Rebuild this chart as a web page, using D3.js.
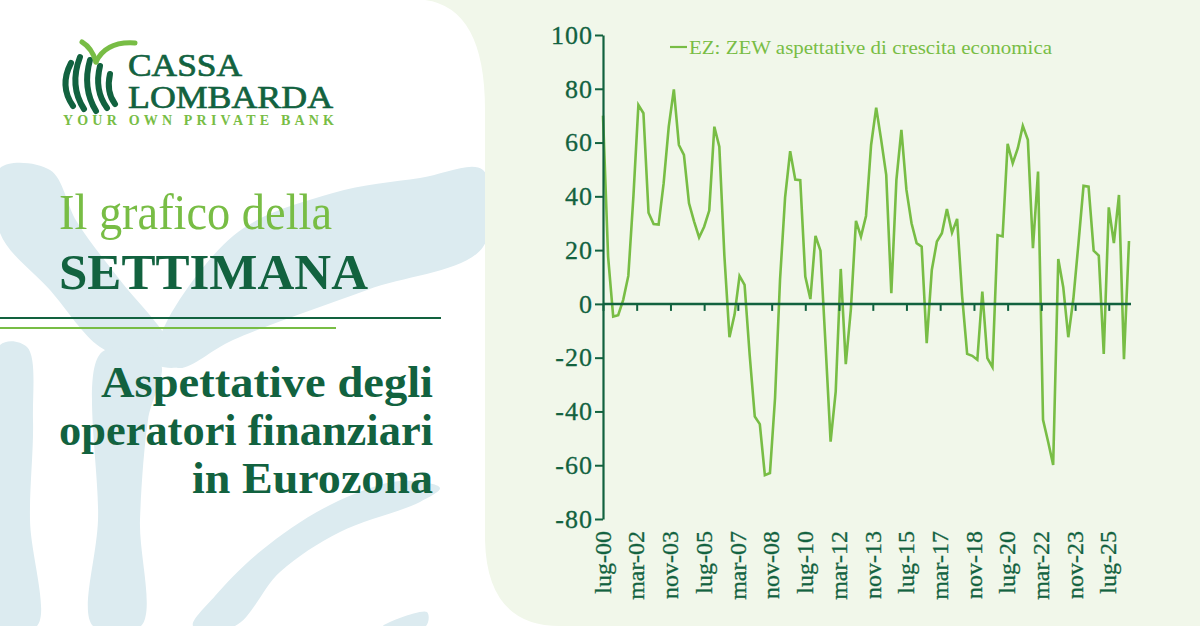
<!DOCTYPE html>
<html>
<head>
<meta charset="utf-8">
<script src="https://cdn.jsdelivr.net/npm/d3@7"></script>
<style>
    html, body { margin: 0; padding: 0; background: #ffffff; }
    svg { display: block; font-family: "Liberation Serif", "DejaVu Serif", serif; }
</style>
</head>
<body>
<svg id="chart" width="1200" height="626"></svg>
<script>
"use strict";

// ---- dati ----
const start_date = new Date(2000, 6, 1);  // lug-00, poi un punto a trimestre
const zew_values = [
    70, 17.6,
    -4.7, -4.2, 1.5, 10.4,
    40, 74, 70.9, 33.9,
    29.7, 29.5, 44.9, 65.9,
    79.8, 59.1, 55.4, 37.4,
    30.6, 24.7, 28.7, 34.7,
    65.9, 58.5, 18, -12.4,
    -4, 10.4, 7.1, -19,
    -41.9, -44.7, -63.7, -62.9,
    -35, 9, 39.5, 56.8,
    46.2, 46, 10.2, 1.8,
    25.3, 19.8, -15, -51.2,
    -32.6, 13, -22.4, -2,
    30.9, 25, 32.7, 59.1,
    73, 61, 48, 4,
    46.1, 64.7, 42.4, 30,
    22.6, 21.3, -14.6, 12.6,
    23.2, 26.3, 35.3, 26.5,
    31.6, 3, -18.6, -19.3,
    -20.8, 4.6, -20.2, -23.5,
    25.6, 25.1, 59.5, 52.3,
    57.9, 66.2, 61, 20.7,
    49.2, -43.1, -51.2, -59.9,
    16.7, 6.2, -12.4, 2,
    22.6, 43.9, 43.6, 19.8,
    18, -18.6, 35.9, 22.6,
    40.5, -20.6, 23.4
];
const y_ticks = [100, 80, 60, 40, 20, 0, -20, -40, -60, -80];
const x_tick_labels = ["lug-00", "mar-02", "nov-03", "lug-05", "mar-07", "nov-08", "lug-10", "mar-12",
                       "nov-13", "lug-15", "mar-17", "nov-18", "lug-20", "mar-22", "nov-23", "lug-25"];
const legend_label = "EZ: ZEW aspettative di crescita economica";
const title_lines = ["Aspettative degli", "operatori finanziari", "in Eurozona"];

// ---- colori ----
const dark_green = "#12623f";
const light_green = "#78bd45";
const brush_blue = "#dcebf0";
const panel_green = "#f1f7ea";

const svg = d3.select("#chart");

// ---- sfondo ----
svg.append("rect").attr("width", 1200).attr("height", 626).attr("fill", "#ffffff");

// pennellate azzurre (a mano, solo decorazione)
const brushes = [
    // braccio sinistro della V
    [[0,168],[50,170],[77,222],[120,280],[167,338],[178,366],[140,362],[100,347],[50,290],[0,233]],
    // braccio destro della V
    [[483,170],[483,247],[367,290],[233,340],[178,368],[158,350],[233,236],[333,193],[420,178]],
    // gambo
    [[102,352],[160,362],[148,420],[140,520],[141,626],[93,626],[98,520]],
    // striscia a bordo sinistro
    [[0,345],[27,347],[33,420],[30,520],[37,626],[0,626]],
    // pennellata in basso
    [[193,626],[235,626],[280,572],[340,532],[420,502],[440,488],[400,481],[330,505],[262,550],[215,596]],
    [[383,626],[427,612],[426,626]]
];
svg.append("g")
    .selectAll("path")
    .data(brushes)
    .join("path")
    .attr("d", (d) => d3.line().curve(d3.curveCatmullRomClosed)(d))
    .attr("fill", brush_blue);

// pannello del grafico
svg.append("path")
    .attr("d", "M425,0 Q485,8 485,110 L485,540 Q487,626 560,626 L1200,626 L1200,0 Z")
    .attr("fill", panel_green);

// ---- logo ----
const logo = svg.append("g");
[
    "M71,63 Q59,86 73,106",
    "M80,57 Q69,86 84,109",
    "M90,60 Q82,88 96,111",
    "M100,66 Q94,90 107,108",
    "M110,74 Q106,92 115,104"
].forEach((p) => {
    logo.append("path").attr("d", p).attr("fill", "none")
        .attr("stroke", dark_green).attr("stroke-width", 6).attr("stroke-linecap", "round");
});
logo.append("path").attr("d", "M82,42 Q92,48 96,62").attr("fill", "none")
    .attr("stroke", light_green).attr("stroke-width", 5).attr("stroke-linecap", "round");
logo.append("path").attr("d", "M96,62 Q106,41 135,43").attr("fill", "none")
    .attr("stroke", light_green).attr("stroke-width", 5).attr("stroke-linecap", "round");

logo.append("text").attr("x", 128).attr("y", 76).text("CASSA")
    .attr("font-size", 32).attr("fill", dark_green)
    .attr("stroke", dark_green).attr("stroke-width", 0.7)
    .attr("textLength", 114).attr("lengthAdjust", "spacingAndGlyphs");
logo.append("text").attr("x", 128).attr("y", 108).text("LOMBARDA")
    .attr("font-size", 32).attr("fill", dark_green)
    .attr("stroke", dark_green).attr("stroke-width", 0.7)
    .attr("textLength", 205).attr("lengthAdjust", "spacingAndGlyphs");
logo.append("text").attr("x", 63).attr("y", 125).text("YOUR OWN PRIVATE BANK")
    .attr("font-size", 14).attr("font-weight", "bold").attr("fill", light_green)
    .attr("textLength", 271).attr("lengthAdjust", "spacing");

// ---- titoli a sinistra ----
svg.append("text").attr("x", 59).attr("y", 229).text("Il grafico della")
    .attr("font-size", 50).attr("fill", light_green)
    .attr("textLength", 273).attr("lengthAdjust", "spacingAndGlyphs");
svg.append("text").attr("x", 59).attr("y", 289).text("SETTIMANA")
    .attr("font-size", 51).attr("font-weight", "bold").attr("fill", dark_green)
    .attr("textLength", 309).attr("lengthAdjust", "spacingAndGlyphs");

svg.append("line").attr("x1", 0).attr("x2", 441).attr("y1", 318).attr("y2", 318)
    .attr("stroke", dark_green).attr("stroke-width", 2);
svg.append("line").attr("x1", 0).attr("x2", 336).attr("y1", 328).attr("y2", 328)
    .attr("stroke", light_green).attr("stroke-width", 2);

const title_widths = [332, 374, 241];
svg.append("g")
    .selectAll("text")
    .data(title_lines)
    .join("text")
    .attr("x", 433)
    .attr("y", (d, i) => 397 + i * 48)
    .attr("text-anchor", "end")
    .attr("font-size", 45)
    .attr("font-weight", "bold")
    .attr("fill", dark_green)
    .attr("textLength", (d, i) => title_widths[i])
    .attr("lengthAdjust", "spacingAndGlyphs")
    .text((d) => d);

// ---- grafico ----
const dates = zew_values.map((v, i) => d3.timeMonth.offset(start_date, i * 3));
const tick_dates = x_tick_labels.map((l, i) => d3.timeMonth.offset(start_date, i * 20));
const data = zew_values.map((v, i) => ({date: dates[i], value: v}));

const plot = {left: 603, right: 1129, top: 35, bottom: 519};

const x = d3.scaleTime()
    .domain([dates[0], dates[dates.length - 1]])
    .range([plot.left, plot.right]);
const y = d3.scaleLinear()
    .domain([-80, 100])
    .range([plot.bottom, plot.top]);

// serie
svg.append("path")
    .datum(data)
    .attr("fill", "none")
    .attr("stroke", light_green)
    .attr("stroke-width", 2.6)
    .attr("stroke-linejoin", "miter")
    .attr("d", d3.line().x((d) => x(d.date)).y((d) => y(d.value)));

// asse y (trattino normale per i negativi, come nell'originale)
const y_axis = svg.append("g")
    .attr("transform", `translate(${plot.left},0)`)
    .call(d3.axisLeft(y).tickValues(y_ticks).tickFormat((d) => String(d))
        .tickSize(8).tickSizeOuter(0).tickPadding(2));
y_axis.select(".domain").attr("stroke", dark_green).attr("stroke-width", 2.2);
y_axis.selectAll(".tick line").attr("stroke", dark_green).attr("stroke-width", 2);
y_axis.selectAll(".tick text")
    .attr("fill", dark_green)
    .attr("stroke", dark_green)
    .attr("stroke-width", 0.3)
    .attr("font-size", 26)
    .attr("font-family", "Liberation Serif, serif")
    .attr("letter-spacing", 1);

// asse x sullo zero (solo linea e tacche)
const zero_axis = svg.append("g")
    .attr("transform", `translate(0,${y(0)})`)
    .call(d3.axisBottom(x).tickValues(tick_dates).tickFormat("").tickSize(7).tickSizeOuter(0));
zero_axis.select(".domain")
    .attr("d", `M${plot.left},0H${plot.right + 2}`)
    .attr("stroke", dark_green).attr("stroke-width", 2.5);
zero_axis.selectAll(".tick line").attr("stroke", dark_green).attr("stroke-width", 2);

// etichette date in basso, ruotate
const x_labels = svg.append("g")
    .attr("transform", `translate(0,${plot.bottom + 12})`)
    .call(d3.axisBottom(x).tickValues(tick_dates).tickFormat((d, i) => x_tick_labels[i]).tickSize(0));
x_labels.select(".domain").remove();
x_labels.selectAll(".tick text")
    .attr("transform", "rotate(-90)")
    .attr("x", 0)
    .attr("y", 0)
    .attr("dy", "0.3em")
    .attr("text-anchor", "end")
    .attr("fill", dark_green)
    .attr("stroke", dark_green)
    .attr("stroke-width", 0.3)
    .attr("font-size", 24)
    .attr("font-family", "Liberation Serif, serif");

// legenda
const legend = svg.append("g");
legend.append("line")
    .attr("x1", 670).attr("x2", 687).attr("y1", 47).attr("y2", 47)
    .attr("stroke", light_green).attr("stroke-width", 2.2);
legend.append("text")
    .attr("x", 689).attr("y", 54)
    .attr("font-size", 19)
    .attr("fill", light_green)
    .attr("textLength", 363).attr("lengthAdjust", "spacingAndGlyphs")
    .text(legend_label);
</script>
</body>
</html>
